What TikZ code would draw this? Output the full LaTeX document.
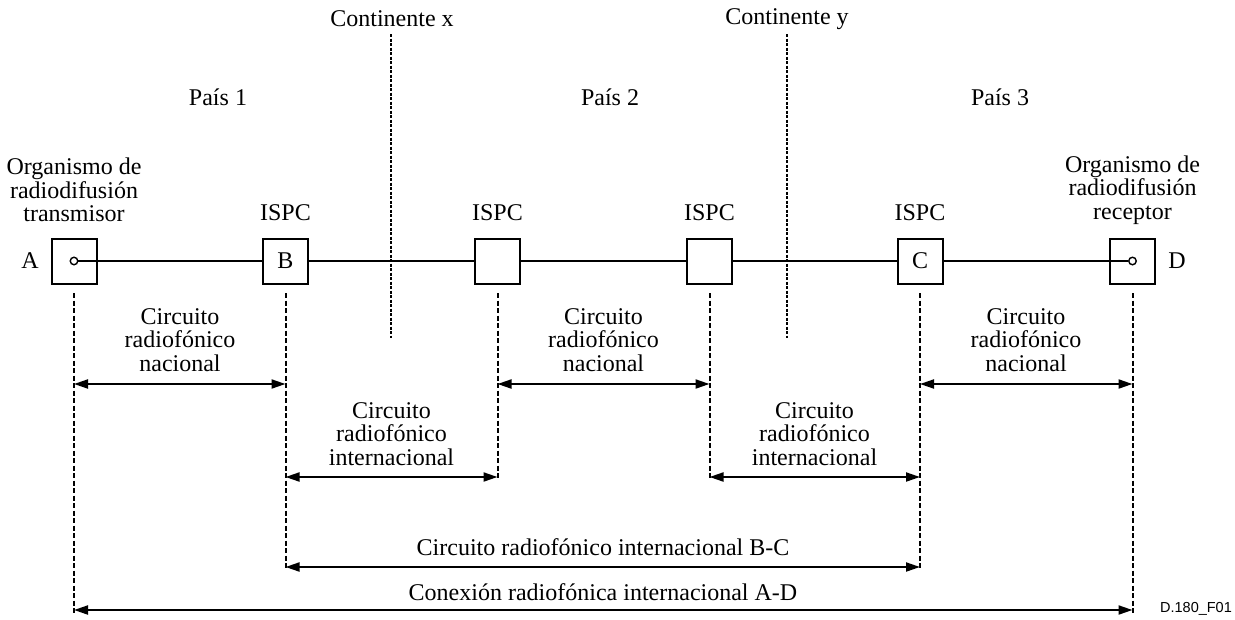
\documentclass[tikz,border=0pt]{standalone}
\usepackage{fontspec}
\setmainfont{Liberation Serif}
\newfontfamily\labelsans{Liberation Sans}
\usetikzlibrary{arrows.meta}
\begin{document}
\begin{tikzpicture}[x=1pt,y=-1pt,
  box/.style={draw, line width=2pt, minimum size=45pt, inner sep=0pt, fill=white, font=\fontsize{24}{24}\selectfont},
  port/.style={circle, draw, fill=white, minimum size=7.5pt, inner sep=0pt, line width=1.4pt},
  txt/.style={font=\fontsize{24}{23.5}\selectfont, align=center, inner sep=0pt},
  wire/.style={line width=2pt},
  guide/.style={line width=2pt, dash pattern=on 5pt off 2.5pt},
  border/.style={line width=2pt, dash pattern=on 3pt off 1.5pt},
  dim/.style={line width=2pt, {Triangle[length=14pt,width=9pt]}-{Triangle[length=14pt,width=9pt]}}
]
\useasboundingbox (0,0) rectangle (1235,619);

% continent borders
\node[txt] (kx) at (392,19) {Continente x};
\node[txt] (ky) at (787,19) {Continente y};
\coordinate (kxt) at (391,34); \coordinate (kxb) at (391,338);
\coordinate (kyt) at (787,34); \coordinate (kyb) at (787,338);
\draw[border] (kxt) -- (kxb);
\draw[border] (kyt) -- (kyb);

% countries
\node[txt] (p1) at (218,97) {País 1};
\node[txt] (p2) at (610,97) {País 2};
\node[txt] (p3) at (1000,97) {País 3};

% boxes
\node[box] (bA) at (74,261) {};
\node[box] (bB) at (285.5,261) {B};
\node[box] (bM1) at (497.5,261) {};
\node[box] (bM2) at (709.5,261) {};
\node[box] (bC) at (920,261) {C};
\node[box] (bD) at (1132.5,261) {};
\node[port] (cA) at (74,261) {};
\node[port] (cD) at (1132.5,261) {};

\draw[wire] (cA) -- (bB);
\draw[wire] (bB) -- (bM1);
\draw[wire] (bM1) -- (bM2);
\draw[wire] (bM2) -- (bC);
\draw[wire] (bC) -- (cD);

\node[txt] (lA) at (30,261) {A};
\node[txt] (lD) at (1177,261) {D};

\node[txt] (orgA) at (74,190) {Organismo de\\radiodifusión\\transmisor};
\node[txt] (orgD) at (1132.5,190) {Organismo de\\radiodifusión\\receptor};
\node[txt] (iB) at (285.5,213) {ISPC};
\node[txt] (iM1) at (497.5,213) {ISPC};
\node[txt] (iM2) at (709.5,213) {ISPC};
\node[txt] (iC) at (920,213) {ISPC};

% guide line ends
\coordinate (eA) at (74,613);
\coordinate (eB) at (285.5,570);
\coordinate (eM1) at (497.5,480);
\coordinate (eM2) at (709.5,480);
\coordinate (eC) at (920,570);
\coordinate (eD) at (1132.5,613);
\draw[guide] ([yshift=-8.5pt]bA.south) -- (eA);
\draw[guide] ([yshift=-8.5pt]bB.south) -- (eB);
\draw[guide] ([yshift=-8.5pt]bM1.south) -- (eM1);
\draw[guide] ([yshift=-8.5pt]bM2.south) -- (eM2);
\draw[guide] ([yshift=-8.5pt]bC.south) -- (eC);
\draw[guide] ([yshift=-8.5pt]bD.south) -- (eD);

% row 1
\coordinate (r1A) at (74,384); \coordinate (r1B) at (285.5,384);
\coordinate (r1M1) at (497.5,384); \coordinate (r1M2) at (709.5,384);
\coordinate (r1C) at (920,384); \coordinate (r1D) at (1132.5,384);
\draw[dim] (r1A) -- (r1B);
\draw[dim] (r1M1) -- (r1M2);
\draw[dim] (r1C) -- (r1D);
\node[txt] (n1) at (180,340) {Circuito\\radiofónico\\nacional};
\node[txt] (n2) at (603.5,340) {Circuito\\radiofónico\\nacional};
\node[txt] (n3) at (1026,340) {Circuito\\radiofónico\\nacional};

% row 2
\coordinate (r2B) at (285.5,477); \coordinate (r2M1) at (497.5,477);
\coordinate (r2M2) at (709.5,477); \coordinate (r2C) at (920,477);
\draw[dim] (r2B) -- (r2M1);
\draw[dim] (r2M2) -- (r2C);
\node[txt] (i1) at (391.5,434) {Circuito\\radiofónico\\internacional};
\node[txt] (i2) at (814.5,434) {Circuito\\radiofónico\\internacional};

% row 3
\coordinate (r3B) at (285.5,567); \coordinate (r3C) at (920,567);
\draw[dim] (r3B) -- (r3C);
\node[txt] (bc) at (603,547) {Circuito radiofónico internacional B-C};

% row 4
\coordinate (r4A) at (74,610); \coordinate (r4D) at (1132.5,610);
\draw[dim] (r4A) -- (r4D);
\node[txt] (ad) at (603,592) {Conexión radiofónica internacional A-D};

\node[font=\labelsans\fontsize{14.5}{16}\selectfont, inner sep=0pt] (fig) at (1196,609) {D.180\_F01};
\end{tikzpicture}
\end{document}
